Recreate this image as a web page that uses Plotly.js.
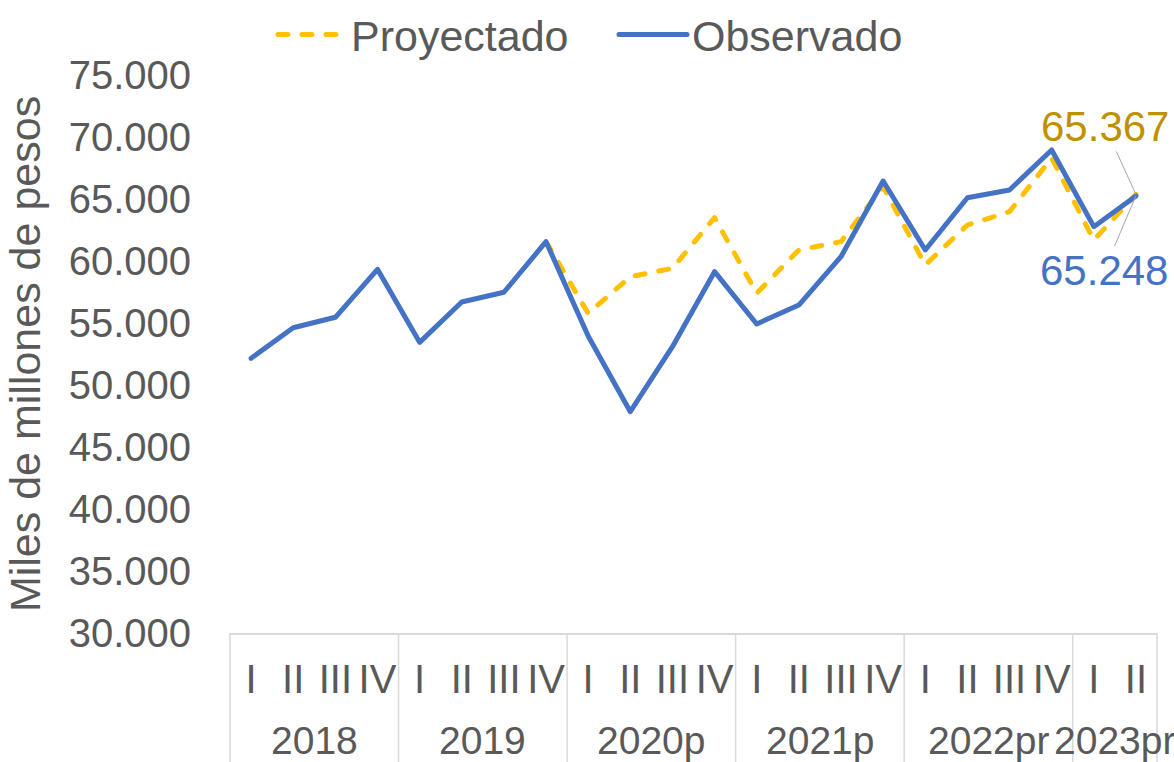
<!DOCTYPE html>
<html>
<head>
<meta charset="utf-8">
<script src="https://cdn.plot.ly/plotly-3.0.1.min.js"></script>
<style>
html,body{margin:0;padding:0;background:#fff;}
#chart{width:1174px;height:762px;}
.scatterlayer path.js-line, .legendlines path{stroke-linecap:round;stroke-linejoin:round;}
</style>
</head>
<body>
<div id="chart"></div>
<script>
const years = ['2018','2018','2018','2018','2019','2019','2019','2019','2020p','2020p','2020p','2020p','2021p','2021p','2021p','2021p','2022pr','2022pr','2022pr','2022pr','2023pr','2023pr'];
const quarters = ['I','II','III','IV','I','II','III','IV','I','II','III','IV','I','II','III','IV','I','II','III','IV','I','II'];
const observado = [52150, 54620, 55460, 59330, 53440, 56690, 57480, 61560, 53950, 47850, 53090, 59140, 54920, 56450, 60350, 66450, 60890, 65100, 65730, 68950, 62770, 65248];
const proyectado = [null, null, null, null, null, null, null, 61560, 55780, 58730, 59410, 63490, 57400, 60890, 61560, 66000, 59680, 62900, 63980, 68300, 61690, 65367];
const yTicks = [30000, 35000, 40000, 45000, 50000, 55000, 60000, 65000, 70000, 75000];

const FONT = 'Liberation Sans, Arial, sans-serif';
const GREY = '#595959';
const LINEGREY = '#D9D9D9';
const idx = quarters.map((_, i) => i);
const lastIdx = idx.length - 1;

// year groups (from the data)
const groups = [];
years.forEach((y, i) => {
  if (!groups.length || groups[groups.length - 1].name !== y) groups.push({name: y, first: i, last: i});
  else groups[groups.length - 1].last = i;
});

const traces = [
  {
    type: 'scatter', mode: 'lines', name: 'Proyectado',
    x: idx, y: proyectado,
    line: {color: '#FFC000', width: 5, dash: '10px,14px'},
    connectgaps: false, hoverinfo: 'skip'
  },
  {
    type: 'scatter', mode: 'lines', name: 'Observado',
    x: idx, y: observado,
    line: {color: '#4472C4', width: 5},
    hoverinfo: 'skip'
  }
];

const fmt = v => v.toLocaleString('de-DE');

const yearAnnotations = groups.map(g => ({
  x: (g.first + g.last) / 2, xref: 'x',
  y: -0.193, yref: 'paper', yanchor: 'middle', xanchor: 'center',
  text: g.name, showarrow: false,
  font: {family: FONT, size: 39, color: GREY}
}));

const dividerShapes = groups.slice(1).map(g => ({
  type: 'line', xref: 'x', yref: 'paper',
  x0: g.first - 0.5, x1: g.first - 0.5, y0: 0, y1: -0.235,
  line: {color: LINEGREY, width: 1.5}
})).concat([0, 1].map(p => ({
  type: 'line', xref: 'paper', yref: 'paper',
  x0: p, x1: p, y0: 0, y1: -0.235,
  line: {color: LINEGREY, width: 1.5}
})));

const layout = {
  width: 1174, height: 762,
  margin: {l: 230, r: 17, t: 75, b: 129},
  paper_bgcolor: '#fff', plot_bgcolor: '#fff',
  separators: ',.',
  font: {family: FONT, size: 40, color: GREY},
  showlegend: true,
  legend: {
    orientation: 'h', xref: 'container', yref: 'container',
    x: 273 / 1174, xanchor: 'left', y: 1, yanchor: 'top',
    font: {family: FONT, size: 43, color: GREY},
    itemwidth: 68, entrywidth: 258, entrywidthmode: 'pixels',
    traceorder: 'normal', bgcolor: 'rgba(0,0,0,0)'
  },
  xaxis: {
    range: [-0.5, lastIdx + 0.5],
    tickmode: 'array', tickvals: idx, ticktext: quarters,
    showgrid: false, zeroline: false,
    showline: true, linecolor: LINEGREY, linewidth: 1.5,
    ticks: '', ticklabelstandoff: 10,
    tickfont: {family: FONT, size: 40, color: GREY},
    fixedrange: true
  },
  yaxis: {
    range: [30000, 75000],
    tickvals: yTicks,
    tickformat: ',d',
    showgrid: false, zeroline: false, showline: false,
    ticks: '', ticklabelstandoff: 38,
    tickfont: {family: FONT, size: 40, color: GREY},
    title: {text: 'Miles de millones de pesos', font: {family: FONT, size: 43, color: GREY}, standoff: 14},
    fixedrange: true
  },
  shapes: dividerShapes,
  annotations: yearAnnotations.concat([
    {
      x: lastIdx, y: proyectado[lastIdx], xref: 'x', yref: 'y',
      text: fmt(proyectado[lastIdx]),
      font: {family: FONT, size: 42, color: '#BF9000'},
      showarrow: true, arrowhead: 0, arrowwidth: 1, arrowcolor: '#A6A6A6',
      ax: -31, ay: -68, standoff: 0
    },
    {
      x: lastIdx, y: observado[lastIdx], xref: 'x', yref: 'y',
      text: fmt(observado[lastIdx]),
      font: {family: FONT, size: 42, color: '#4472C4'},
      showarrow: true, arrowhead: 0, arrowwidth: 1, arrowcolor: '#A6A6A6',
      ax: -32, ay: 75, standoff: 0
    }
  ])
};

Plotly.newPlot('chart', traces, layout, {displayModeBar: false, staticPlot: true});
</script>
</body>
</html>
